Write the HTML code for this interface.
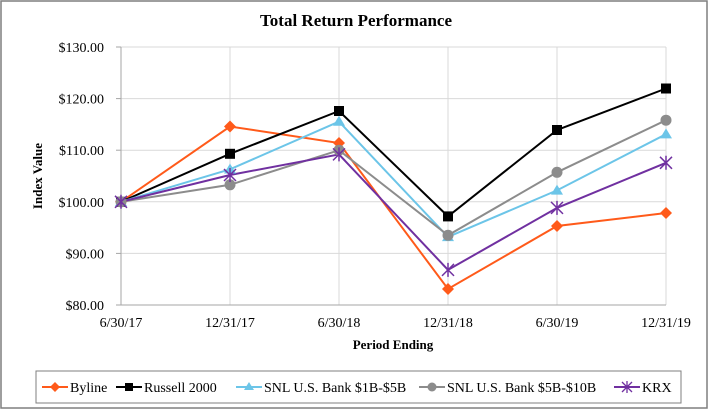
<!DOCTYPE html>
<html><head><style>
body{margin:0;background:#fff;}
text{font-family:"Liberation Serif","Times New Roman",serif !important;fill:#000;}
</style></head><body>
<svg width="712" height="410" xmlns="http://www.w3.org/2000/svg" font-family="Liberation Serif, serif">
<rect x="1" y="1" width="706" height="407" fill="#fff" stroke="#7f7f7f" stroke-width="1.5"/>
<text x="356" y="26" text-anchor="middle" font-size="17" font-weight="bold">Total Return Performance</text>
<g stroke="#d9d9d9" stroke-width="1">
<line x1="121" y1="47" x2="666" y2="47"/><line x1="121" y1="98.6" x2="666" y2="98.6"/>
<line x1="121" y1="150.2" x2="666" y2="150.2"/><line x1="121" y1="201.8" x2="666" y2="201.8"/>
<line x1="121" y1="253.4" x2="666" y2="253.4"/>
<line x1="230" y1="47" x2="230" y2="305"/><line x1="339" y1="47" x2="339" y2="305"/>
<line x1="448" y1="47" x2="448" y2="305"/><line x1="557" y1="47" x2="557" y2="305"/>
<line x1="666" y1="47" x2="666" y2="305"/>
</g>
<g stroke="#a6a6a6"><line x1="121" y1="47" x2="121" y2="305"/><line x1="121" y1="305" x2="666" y2="305"/>
<line x1="116" y1="47" x2="121" y2="47"/><line x1="116" y1="98.6" x2="121" y2="98.6"/><line x1="116" y1="150.2" x2="121" y2="150.2"/><line x1="116" y1="201.8" x2="121" y2="201.8"/><line x1="116" y1="253.4" x2="121" y2="253.4"/><line x1="116" y1="305" x2="121" y2="305"/></g>
<g font-size="14" text-anchor="end">
<text x="104" y="52">$130.00</text><text x="104" y="103.6">$120.00</text><text x="104" y="155.2">$110.00</text><text x="104" y="206.8">$100.00</text><text x="104" y="258.4">$90.00</text><text x="104" y="310">$80.00</text></g>
<g font-size="14" text-anchor="middle">
<text x="121" y="327">6/30/17</text><text x="230" y="327">12/31/17</text><text x="339" y="327">6/30/18</text><text x="448" y="327">12/31/18</text><text x="557" y="327">6/30/19</text><text x="666" y="327">12/31/19</text></g>
<text x="393" y="349" text-anchor="middle" font-size="13" font-weight="bold">Period Ending</text>
<text transform="translate(42,176) rotate(-90)" text-anchor="middle" font-size="13" font-weight="bold">Index Value</text>
<polyline fill="none" stroke="#ff5a1a" stroke-width="2" points="121,201.8 230,126.5 339,143 448,289 557,226 666,213"/>
<polyline fill="none" stroke="#000" stroke-width="2" points="121,201.8 230,153.8 339,111 448,216.4 557,130 666,88.5"/>
<polyline fill="none" stroke="#6cc5e8" stroke-width="2" points="121,201.8 230,169.3 339,121.6 448,236.9 557,190.4 666,134.2"/>
<polyline fill="none" stroke="#8c8c8c" stroke-width="2" points="121,201.8 230,184.8 339,150.2 448,235.3 557,172.3 666,120.2"/>
<polyline fill="none" stroke="#7030a0" stroke-width="2" points="121,201.8 230,175 339,154.4 448,269.9 557,207.9 666,162.8"/>
<g fill="#ff5a1a"><path d="M121,195.8 l6,6 -6,6 -6,-6z"/><path d="M230,120.5 l6,6 -6,6 -6,-6z"/><path d="M339,137 l6,6 -6,6 -6,-6z"/><path d="M448,283 l6,6 -6,6 -6,-6z"/><path d="M557,220 l6,6 -6,6 -6,-6z"/><path d="M666,207 l6,6 -6,6 -6,-6z"/></g>
<g fill="#000"><rect x="116" y="196.8" width="10" height="10"/><rect x="225" y="148.8" width="10" height="10"/><rect x="334" y="106" width="10" height="10"/><rect x="443" y="211.4" width="10" height="10"/><rect x="552" y="125" width="10" height="10"/><rect x="661" y="83.5" width="10" height="10"/></g>
<g fill="#6cc5e8"><path d="M121,196 l6,10 h-12z"/><path d="M230,163.5 l6,10 h-12z"/><path d="M339,115.8 l6,10 h-12z"/><path d="M448,231.1 l6,10 h-12z"/><path d="M557,184.6 l6,10 h-12z"/><path d="M666,128.4 l6,10 h-12z"/></g>
<g fill="#8c8c8c"><circle cx="121" cy="201.8" r="5.5"/><circle cx="230" cy="184.8" r="5.5"/><circle cx="339" cy="150.2" r="5.5"/><circle cx="448" cy="235.3" r="5.5"/><circle cx="557" cy="172.3" r="5.5"/><circle cx="666" cy="120.2" r="5.5"/></g>
<g stroke="#7030a0" stroke-width="1.5">
<path d="M115,195.8 l12,12 M127,195.8 l-12,12 M121,194.8 v14"/>
<path d="M224,169 l12,12 M236,169 l-12,12 M230,168 v14"/>
<path d="M333,148.4 l12,12 M345,148.4 l-12,12 M339,147.4 v14"/>
<path d="M442,263.9 l12,12 M454,263.9 l-12,12 M448,262.9 v14"/>
<path d="M551,201.9 l12,12 M563,201.9 l-12,12 M557,200.9 v14"/>
<path d="M660,156.8 l12,12 M672,156.8 l-12,12 M666,155.8 v14"/></g>
<rect x="36" y="371" width="645" height="32" fill="#fff" stroke="#7f7f7f"/>
<g font-size="14">
<line x1="42" y1="387" x2="68" y2="387" stroke="#ff5a1a" stroke-width="2"/><path d="M55,382 l5,5 -5,5 -5,-5z" fill="#ff5a1a"/><text x="70" y="392">Byline</text>
<line x1="116" y1="387" x2="142" y2="387" stroke="#000" stroke-width="2"/><rect x="125" y="383" width="8" height="8"/><text x="144" y="392">Russell 2000</text>
<line x1="236" y1="387" x2="262" y2="387" stroke="#6cc5e8" stroke-width="2"/><path d="M249,382 l5,8 h-10z" fill="#6cc5e8"/><text x="264" y="392">SNL U.S. Bank $1B-$5B</text>
<line x1="419" y1="387" x2="445" y2="387" stroke="#8c8c8c" stroke-width="2"/><circle cx="432" cy="387" r="4.5" fill="#8c8c8c"/><text x="447" y="392">SNL U.S. Bank $5B-$10B</text>
<line x1="614" y1="387" x2="640" y2="387" stroke="#7030a0" stroke-width="2"/><path d="M622,382 l10,10 M632,382 l-10,10 M627,381 v12" stroke="#7030a0" stroke-width="1.3"/><text x="642" y="392">KRX</text>
</g>
</svg>
</body></html>
